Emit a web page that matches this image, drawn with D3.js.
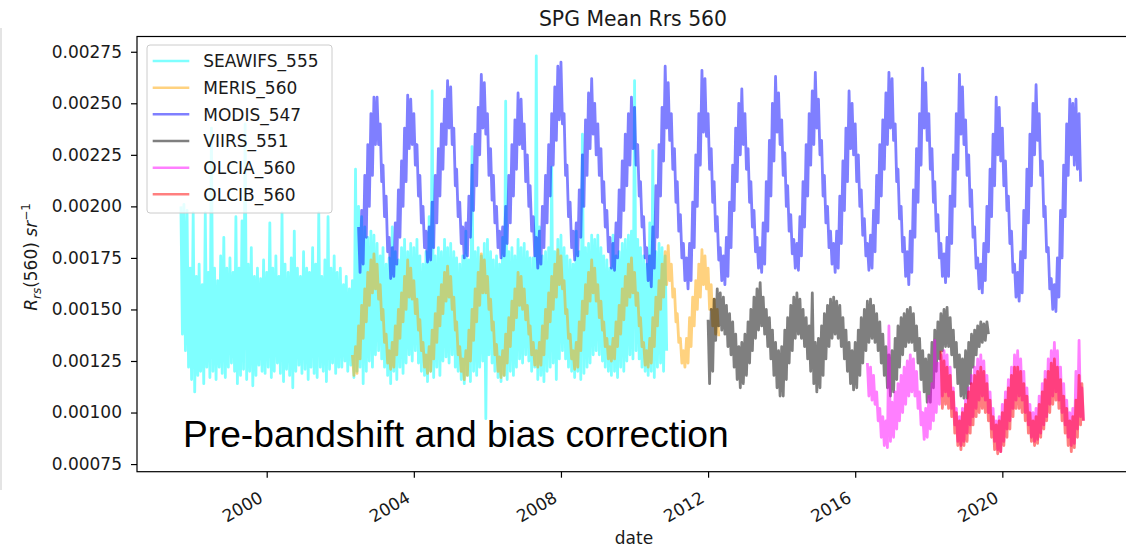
<!DOCTYPE html>
<html>
<head>
<meta charset="utf-8">
<script src="https://cdn.jsdelivr.net/npm/d3@7"></script>
<style>
body{margin:0;background:#fff;}
svg text{font-family:"DejaVu Sans",sans-serif;fill:#1a1a1a;}
</style>
</head>
<body>
<svg id="chart" width="1126" height="548"></svg>
<script>

// all series values are in 1e-3 sr^-1, one high/low pair per month
const UNIT = 1e-3;

const seawifsStart = [1997, 8];
const seawifsHi = [
  2.00,2.01,1.98,1.70,
  1.97,1.66,1.72,1.62,1.97,1.68,2.38,1.70,1.64,1.76,1.85,1.70,
  1.75,1.68,1.95,1.70,1.93,2.40,1.72,1.80,1.66,1.70,1.65,1.74,
  1.68,1.92,1.70,1.76,1.66,1.97,1.72,1.68,1.75,1.88,1.70,1.66,
  1.78,1.70,1.68,1.80,1.72,1.97,1.66,1.74,1.95,1.70,1.76,1.68,
  1.70,1.62,1.66,1.60,1.64,2.18,2.00,1.95,1.90,1.85,1.88,1.86,
  1.82,1.76,1.80,1.72,1.75,1.90,1.78,1.74,1.80,1.84,1.78,1.82,
  1.80,1.84,1.76,1.72,1.78,1.95,2.56,1.76,1.80,1.78,1.84,1.80,
  1.82,1.78,1.75,1.72,1.76,1.88,1.74,2.29,1.78,1.80,1.76,1.82,
  1.84,1.78,1.74,1.76,1.72,1.85,2.51,1.78,1.80,1.76,1.84,1.80,
  1.82,1.78,1.75,1.75,2.73,1.90,1.76,1.78,1.80,2.19,1.78,1.84,
  1.86,1.80,1.76,1.74,1.72,1.88,1.78,2.35,1.80,1.82,1.86,1.84,
  1.86,1.80,1.76,1.74,1.70,1.86,1.76,1.78,1.82,1.84,1.86,1.88,
  2.61,1.84,1.80,1.76,1.72,1.92,2.27,1.78,1.82,1.80,1.76
];
const seawifsLo = [
  1.38,1.30,1.22,1.16,
  1.10,1.18,1.20,1.14,1.22,1.17,1.20,1.16,1.22,1.19,1.17,1.22,
  1.24,1.20,1.14,1.18,1.21,1.16,1.20,1.13,1.18,1.23,1.20,1.19,
  1.22,1.17,1.20,1.24,1.19,1.15,1.21,1.18,1.12,1.20,1.23,1.19,
  1.21,1.16,1.22,1.19,1.17,1.22,1.20,1.15,1.21,1.24,1.19,1.22,
  1.22,1.25,1.20,1.23,1.17,1.20,1.22,1.14,1.20,1.25,1.22,1.28,
  1.30,1.26,1.22,1.18,1.14,1.20,1.16,1.22,1.19,1.24,1.28,1.25,
  1.30,1.24,1.20,1.18,1.15,1.20,1.17,1.22,1.18,1.25,1.27,1.24,
  1.28,1.22,1.20,1.16,1.14,1.18,1.15,1.20,1.18,1.22,1.25,0.97,
  1.28,1.24,1.20,1.17,1.15,1.18,1.16,1.20,1.18,1.22,1.26,1.24,
  1.28,1.25,1.20,1.22,1.16,1.18,1.15,1.20,1.22,1.24,1.16,1.26,
  1.30,1.26,1.22,1.20,1.17,1.20,1.16,1.19,1.22,1.24,1.28,1.30,
  1.28,1.25,1.22,1.20,1.18,1.20,1.17,1.22,1.20,1.25,1.28,1.26,
  1.30,1.26,1.22,1.20,1.18,1.20,1.17,1.22,1.24,1.20,1.30
];

const merisStart = [2002, 4];
const merisHi = [
  1.28,1.32,1.42,1.52,1.60,1.68,1.74,1.77,
  1.72,1.62,1.50,1.38,1.30,1.34,1.42,1.50,1.58,1.66,1.74,1.70,
  1.64,1.55,1.45,1.34,1.28,1.32,1.40,1.48,1.56,1.62,1.68,1.71,
  1.66,1.56,1.44,1.32,1.26,1.30,1.40,1.50,1.60,1.68,1.77,1.74,
  1.66,1.55,1.44,1.33,1.27,1.30,1.38,1.46,1.54,1.60,1.68,1.66,
  1.60,1.52,1.42,1.34,1.30,1.34,1.42,1.50,1.58,1.66,1.72,1.79,
  1.76,1.64,1.50,1.38,1.30,1.34,1.44,1.54,1.62,1.68,1.74,1.70,
  1.62,1.54,1.44,1.36,1.32,1.36,1.44,1.52,1.60,1.66,1.72,1.75,
  1.68,1.58,1.46,1.34,1.30,1.36,1.46,1.56,1.64,1.72,1.78,1.81,
  1.72,1.60,1.48,1.36,1.30,1.36,1.46,1.56,1.64,1.72,1.79,1.76,
  1.70,1.62,1.55,1.50
];
const merisLo = [
  1.18,1.19,1.26,1.36,1.44,1.52,1.58,1.60,
  1.55,1.45,1.34,1.24,1.21,1.22,1.28,1.36,1.44,1.50,1.56,1.55,
  1.48,1.40,1.30,1.22,1.19,1.20,1.26,1.34,1.42,1.48,1.54,1.56,
  1.50,1.40,1.28,1.20,1.16,1.18,1.25,1.35,1.44,1.52,1.58,1.58,
  1.50,1.40,1.28,1.20,1.17,1.18,1.24,1.32,1.40,1.46,1.52,1.50,
  1.45,1.38,1.28,1.23,1.22,1.23,1.28,1.36,1.44,1.50,1.56,1.62,
  1.60,1.48,1.36,1.26,1.21,1.22,1.30,1.40,1.48,1.54,1.58,1.54,
  1.46,1.40,1.32,1.26,1.25,1.26,1.32,1.38,1.45,1.52,1.56,1.58,
  1.52,1.42,1.32,1.23,1.22,1.24,1.32,1.42,1.50,1.56,1.62,1.64,
  1.56,1.44,1.34,1.24,1.22,1.24,1.32,1.42,1.50,1.56,1.62,1.60,
  1.50,1.42,1.38,1.37
];

const modisStart = [2002, 6];
const modisHi = [
  1.90,1.98,2.15,2.30,2.45,2.53,
  2.53,2.40,2.20,2.05,1.85,1.80,1.92,2.08,2.22,2.38,2.54,2.52,
  2.45,2.30,2.15,2.00,1.88,1.90,2.02,2.15,2.28,2.40,2.52,2.61,
  2.58,2.38,2.18,2.02,1.90,1.92,2.05,2.20,2.35,2.48,2.64,2.60,
  2.45,2.28,2.15,2.00,1.88,1.90,2.00,2.15,2.30,2.42,2.55,2.52,
  2.40,2.25,2.10,1.95,1.85,1.88,2.00,2.15,2.30,2.45,2.58,2.68,
  2.70,2.45,2.20,2.02,1.88,1.92,2.08,2.25,2.42,2.55,2.62,2.50,
  2.40,2.28,2.12,1.98,1.85,1.82,1.92,2.08,2.22,2.35,2.45,2.53,
  2.48,2.30,2.12,1.95,1.80,1.76,1.90,2.10,2.30,2.48,2.68,2.60,
  2.45,2.28,2.12,1.96,1.82,1.75,1.82,2.02,2.25,2.45,2.66,2.62,
  2.45,2.28,2.12,1.95,1.80,1.76,1.85,2.02,2.20,2.38,2.50,2.57,
  2.45,2.28,2.12,1.98,1.85,1.80,1.92,2.12,2.32,2.50,2.63,2.55,
  2.42,2.26,2.10,1.96,1.84,1.82,1.95,2.12,2.30,2.45,2.56,2.65,
  2.52,2.32,2.15,2.00,1.88,1.82,1.88,2.05,2.22,2.38,2.56,2.50,
  2.40,2.25,2.08,1.94,1.82,1.86,1.98,2.15,2.30,2.42,2.55,2.65,
  2.62,2.40,2.18,2.00,1.85,1.78,1.88,2.08,2.28,2.45,2.67,2.60,
  2.45,2.28,2.12,1.96,1.82,1.77,1.85,2.05,2.25,2.45,2.64,2.58,
  2.42,2.25,2.08,1.90,1.75,1.72,1.82,2.00,2.18,2.35,2.53,2.48,
  2.38,2.22,2.05,1.88,1.72,1.68,1.78,1.98,2.18,2.35,2.50,2.59,
  2.45,2.22,2.00,1.80,1.65,1.62,1.75,1.98,2.20,2.40,2.52,2.50,
  2.52,2.45
];
const modisLo = [
  1.68,1.72,1.85,2.00,2.15,2.30,
  2.30,2.12,1.95,1.78,1.65,1.66,1.72,1.85,2.00,2.12,2.28,2.30,
  2.20,2.05,1.92,1.80,1.73,1.74,1.80,1.92,2.05,2.18,2.30,2.38,
  2.30,2.10,1.95,1.82,1.75,1.76,1.85,1.98,2.10,2.25,2.38,2.35,
  2.15,2.03,1.92,1.80,1.75,1.76,1.82,1.92,2.05,2.18,2.30,2.28,
  2.12,2.00,1.88,1.76,1.70,1.72,1.80,1.92,2.05,2.20,2.32,2.42,
  2.40,2.15,1.95,1.80,1.74,1.76,1.85,2.00,2.15,2.28,2.35,2.25,
  2.15,2.02,1.90,1.78,1.70,1.69,1.75,1.85,1.98,2.10,2.20,2.28,
  2.20,2.05,1.90,1.75,1.64,1.61,1.70,1.85,2.05,2.22,2.38,2.32,
  2.18,2.02,1.88,1.75,1.64,1.60,1.64,1.80,2.00,2.20,2.36,2.34,
  2.18,2.02,1.88,1.74,1.64,1.62,1.66,1.80,1.98,2.12,2.25,2.30,
  2.18,2.02,1.90,1.78,1.70,1.68,1.72,1.88,2.05,2.22,2.36,2.30,
  2.15,2.00,1.88,1.77,1.70,1.69,1.76,1.90,2.05,2.20,2.30,2.38,
  2.25,2.05,1.92,1.80,1.72,1.68,1.70,1.82,1.98,2.12,2.28,2.25,
  2.12,2.00,1.86,1.76,1.69,1.70,1.78,1.92,2.05,2.18,2.30,2.38,
  2.32,2.12,1.94,1.78,1.66,1.62,1.68,1.85,2.02,2.20,2.38,2.32,
  2.18,2.02,1.88,1.75,1.66,1.63,1.66,1.82,2.00,2.18,2.35,2.30,
  2.15,2.00,1.85,1.70,1.60,1.58,1.64,1.78,1.95,2.10,2.25,2.22,
  2.10,1.98,1.82,1.68,1.56,1.54,1.58,1.75,1.92,2.10,2.25,2.32,
  2.15,1.95,1.78,1.60,1.50,1.49,1.56,1.75,1.95,2.15,2.25,2.20,
  2.18,2.12
];

const viirsStart = [2012, 0];
const viirsHi = [
  1.45,1.50,1.55,1.60,1.58,1.56,1.52,1.48,1.44,1.38,1.32,1.34,
  1.38,1.44,1.50,1.56,1.60,1.63,1.56,1.50,1.46,1.40,1.34,1.30,
  1.32,1.40,1.46,1.52,1.56,1.58,1.55,1.50,1.46,1.42,1.58,1.34,
  1.36,1.42,1.48,1.52,1.55,1.56,1.54,1.52,1.46,1.40,1.34,1.30,
  1.34,1.40,1.46,1.50,1.54,1.55,1.52,1.48,1.44,1.38,1.32,1.28,
  1.30,1.36,1.42,1.46,1.48,1.50,1.51,1.48,1.42,1.36,1.30,1.26,
  1.28,1.34,1.40,1.44,1.48,1.50,1.51,1.46,1.40,1.34,1.28,1.26,
  1.30,1.34,1.38,1.40,1.42,1.44,1.43,1.44
];
const viirsLo = [
  1.14,1.20,1.35,1.42,1.40,1.38,1.32,1.28,1.22,1.16,1.12,1.14,
  1.18,1.24,1.30,1.36,1.40,1.42,1.38,1.32,1.26,1.18,1.12,1.08,
  1.08,1.16,1.24,1.30,1.36,1.38,1.36,1.32,1.26,1.20,1.14,1.10,
  1.12,1.18,1.26,1.32,1.36,1.38,1.36,1.32,1.26,1.20,1.14,1.11,
  1.12,1.18,1.24,1.30,1.34,1.36,1.34,1.30,1.24,1.18,1.12,1.08,
  1.10,1.16,1.22,1.28,1.32,1.34,1.34,1.30,1.24,1.16,1.10,1.05,
  1.05,1.12,1.20,1.26,1.30,1.32,1.32,1.28,1.22,1.14,1.08,1.07,
  1.07,1.14,1.22,1.28,1.32,1.34,1.35,1.38
];

const olciaStart = [2016, 4];
const olciaHi = [
  1.24,1.22,1.18,1.10,1.02,0.98,0.96,1.42,
  1.05,1.10,1.14,1.18,1.22,1.25,1.28,1.26,1.20,1.10,1.00,1.02,
  1.08,1.14,1.35,1.24,1.28,1.30,1.28,1.22,1.12,1.02,0.98,1.02,
  1.06,1.12,1.18,1.22,1.26,1.28,1.25,1.18,1.10,1.02,0.96,0.98,
  1.04,1.10,1.16,1.22,1.28,1.30,1.26,1.20,1.12,1.04,1.00,1.02,
  1.08,1.14,1.20,1.26,1.30,1.34,1.30,1.22,1.14,1.06,1.00,1.02,
  1.20,1.35,1.12
];
const olciaLo = [
  1.08,1.06,1.04,0.96,0.88,0.84,0.83,0.86,
  0.88,0.92,0.96,1.00,1.04,1.08,1.10,1.08,1.02,0.94,0.87,0.88,
  0.92,0.96,1.00,1.04,1.08,1.10,1.08,1.02,0.94,0.86,0.84,0.86,
  0.90,0.94,0.98,1.02,1.06,1.08,1.06,1.00,0.92,0.86,0.82,0.81,
  0.86,0.92,0.96,1.02,1.06,1.08,1.06,1.00,0.94,0.88,0.86,0.87,
  0.90,0.94,0.98,1.04,1.08,1.10,1.06,1.00,0.94,0.88,0.84,0.85,
  0.92,0.98,0.96
];

const olcibStart = [2018, 4];
const olcibHi = [
  1.30,1.25,1.22,1.18,1.10,1.00,0.96,1.00,
  1.04,1.10,1.14,1.18,1.20,1.22,1.20,1.14,1.06,0.98,0.94,0.96,
  1.00,1.06,1.12,1.18,1.22,1.22,1.20,1.14,1.08,1.00,0.96,0.98,
  1.04,1.10,1.16,1.20,1.24,1.26,1.22,1.16,1.08,1.02,0.96,0.98,
  1.06,1.18,1.14
];
const olcibLo = [
  1.02,1.04,1.02,0.98,0.90,0.84,0.82,0.84,
  0.86,0.90,0.94,0.98,1.00,1.02,1.00,0.96,0.88,0.82,0.80,0.81,
  0.84,0.88,0.92,0.98,1.02,1.02,1.00,0.96,0.90,0.86,0.84,0.85,
  0.88,0.92,0.96,1.00,1.04,1.06,1.02,0.96,0.90,0.84,0.81,0.83,
  0.88,0.94,0.96
];

const seriesNames = ["SEAWIFS_555", "MERIS_560", "MODIS_547", "VIIRS_551", "OLCIA_560", "OLCIB_560"];
const seriesColors = ["#00ffff", "#ffa500", "#0000ff", "#000000", "#ff00ff", "#ff0000"];
const yTicks = [0.00075, 0.00100, 0.00125, 0.00150, 0.00175, 0.00200, 0.00225, 0.00250, 0.00275];
const xTickYears = [2000, 2004, 2008, 2012, 2016, 2020];

const width = 1126, height = 548;
const margin = {top: 36.5, left: 137, right: 1127, bottom: 471.7};

const svg = d3.select("#chart");

// thin grey edge of the original screenshot
svg.append("rect").attr("x", 0).attr("y", 28).attr("width", 2).attr("height", 462).attr("fill", "#e4e4e4");

const x = d3.scaleUtc()
  .domain([new Date(Date.UTC(1996, 5, 22)), new Date(Date.UTC(2023, 4, 23))])
  .range([margin.left, margin.right]);
const y = d3.scaleLinear()
  .domain([0.000713, 0.002824])
  .range([margin.bottom, margin.top]);

// turns monthly high/low readings into a zig-zag so the line looks like the daily noise band
function monthlyPoints(start, hi, lo){
  let pts = [];
  for(let i=0;i<hi.length;i++){
    let m = start[1] + i;
    pts.push({date: new Date(Date.UTC(start[0], m, 1)), value: hi[i]*UNIT});
    pts.push({date: new Date(Date.UTC(start[0], m, 16)), value: lo[i]*UNIT});
  }
  return pts;
}

const seriesData = [
  monthlyPoints(seawifsStart, seawifsHi, seawifsLo),
  monthlyPoints(merisStart, merisHi, merisLo),
  monthlyPoints(modisStart, modisHi, modisLo),
  monthlyPoints(viirsStart, viirsHi, viirsLo),
  monthlyPoints(olciaStart, olciaHi, olciaLo),
  monthlyPoints(olcibStart, olcibHi, olcibLo)
];

const line = d3.line().x(d => x(d.date)).y(d => y(d.value));

const lines = svg.append("g").attr("class", "series");
seriesData.forEach(function(data, i){
  lines.append("path")
    .attr("d", line(data))
    .attr("fill", "none")
    .attr("stroke", seriesColors[i])
    .attr("stroke-opacity", 0.5)
    .attr("stroke-width", 2.8)
    .attr("stroke-linejoin", "round");
});

// axes
const yAxis = svg.append("g")
  .attr("transform", "translate(" + margin.left + ",0)")
  .call(d3.axisLeft(y).tickValues(yTicks).tickFormat(d3.format(".5f")).tickSize(6).tickPadding(9).tickSizeOuter(0));
yAxis.select(".domain").remove();
yAxis.selectAll("line").attr("stroke", "#000").attr("stroke-width", 1.2);
yAxis.selectAll("text").attr("font-size", 17);

const xAxis = svg.append("g")
  .attr("transform", "translate(0," + margin.bottom + ")")
  .call(d3.axisBottom(x).tickValues(xTickYears.map(yr => new Date(Date.UTC(yr, 0, 1)))).tickFormat(d3.utcFormat("%Y")).tickSize(6).tickSizeOuter(0));
xAxis.select(".domain").remove();
xAxis.selectAll("line").attr("stroke", "#000").attr("stroke-width", 1.2);
xAxis.selectAll("text")
  .attr("font-size", 17)
  .attr("x", 0).attr("y", 0).attr("dy", null)
  .attr("text-anchor", "end")
  .attr("transform", "translate(-3,29.5) rotate(-30)");

// frame
svg.append("rect")
  .attr("x", margin.left).attr("y", margin.top)
  .attr("width", margin.right - margin.left).attr("height", margin.bottom - margin.top)
  .attr("fill", "none").attr("stroke", "#000").attr("stroke-width", 1.2);

// title and axis labels
svg.append("text").attr("x", 633).attr("y", 26).attr("text-anchor", "middle")
  .attr("font-size", 20.4).text("SPG Mean Rrs 560");
svg.append("text").attr("x", 634).attr("y", 544).attr("text-anchor", "middle")
  .attr("font-size", 17).text("date");

const ylab = svg.append("text")
  .attr("transform", "translate(37,257) rotate(-90)")
  .attr("text-anchor", "middle").attr("font-size", 17);
ylab.append("tspan").attr("font-style", "italic").text("R");
ylab.append("tspan").attr("font-style", "italic").attr("font-size", 12).attr("dy", 4).text("rs");
ylab.append("tspan").attr("dy", -4).text("(560) ");
ylab.append("tspan").attr("font-style", "italic").text("sr");
ylab.append("tspan").attr("font-size", 12).attr("dy", -7).text("\u22121");

// annotation
svg.append("text").attr("x", 183).attr("y", 447)
  .style("font-family", "'Liberation Sans', Arial, sans-serif")
  .style("font-size", "37.2px").style("fill", "#000")
  .text("Pre-bandshift and bias correction");

// legend
const legend = svg.append("g").attr("class", "legend");
legend.append("rect")
  .attr("x", 147).attr("y", 45).attr("width", 185).attr("height", 168).attr("rx", 3)
  .attr("fill", "#fff").attr("fill-opacity", 0.8)
  .attr("stroke", "#cccccc").attr("stroke-width", 1);
seriesNames.forEach(function(name, i){
  let ry = 61 + i*26.67;
  legend.append("line")
    .attr("x1", 152.7).attr("x2", 189.3).attr("y1", ry).attr("y2", ry)
    .attr("stroke", seriesColors[i]).attr("stroke-opacity", 0.5).attr("stroke-width", 2.5);
  legend.append("text")
    .attr("x", 203.3).attr("y", ry + 6.2)
    .attr("font-size", 17).text(name);
});

</script>
</body>
</html>
